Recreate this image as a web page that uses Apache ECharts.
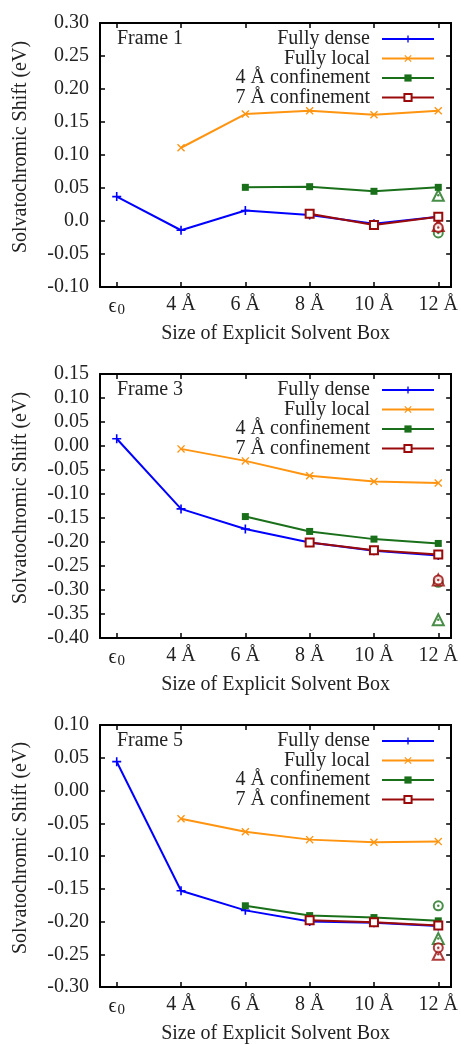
<!DOCTYPE html>
<html>
<head>
<meta charset="utf-8">
<script src="https://cdn.jsdelivr.net/npm/echarts@6/dist/echarts.min.js"></script>
<style>
  html, body { margin: 0; padding: 0; background: #fff; }
  #chart { width: 461px; height: 1045px; }
</style>
</head>
<body>
<div id="chart"></div>
<script>
// box sizes along x (position index 0..5); first one is eps_0 (rich text)
const boxLabels = ['{e|ϵ}{s|0}', '4 Å', '6 Å', '8 Å', '10 Å', '12 Å']
const frameNames = ['Frame 1', 'Frame 3', 'Frame 5']
const seriesNames = ['Fully dense', 'Fully local', '4 Å confinement', '7 Å confinement']

// Frame 1
const dense1 = [0.037, -0.014, 0.016, 0.009, -0.004, 0.0065]
const local1 = [0.111, 0.162, 0.167, 0.161, 0.167]
const conf4_1 = [0.051, 0.052, 0.045, 0.051]
const conf7_1 = [0.011, -0.006, 0.0065]
const extra1 = { tri4: 0.039, circ4: -0.018, tri7: -0.007, circ7: -0.010 }

// Frame 3
const dense3 = [0.015, -0.131, -0.173, -0.201, -0.218, -0.228]
const local3 = [-0.006, -0.031, -0.062, -0.074, -0.077]
const conf4_3 = [-0.147, -0.178, -0.194, -0.203]
const conf7_3 = [-0.201, -0.217, -0.226]
const extra3 = { tri4: -0.362, circ4: -0.284, tri7: -0.279, circ7: -0.279 }

// Frame 5
const dense5 = [0.044, -0.153, -0.183, -0.200, -0.202, -0.207]
const local5 = [-0.043, -0.063, -0.075, -0.079, -0.078]
const conf4_5 = [-0.176, -0.191, -0.194, -0.199]
const conf7_5 = [-0.198, -0.201, -0.206]
const extra5 = { tri4: -0.226, circ4: -0.176, tri7: -0.250, circ7: -0.240 }

// y tick labels per frame
const yTicks1 = ['-0.10', '-0.05', '0.0', '0.05', '0.10', '0.15', '0.20', '0.25', '0.30']
const yTicks3 = ['-0.40', '-0.35', '-0.30', '-0.25', '-0.20', '-0.15', '-0.10', '-0.05', '0.00', '0.05', '0.10', '0.15']
const yTicks5 = ['-0.30', '-0.25', '-0.20', '-0.15', '-0.10', '-0.05', '0.00', '0.05', '0.10']

const panels = [
  { dense: dense1, local: local1, conf4: conf4_1, conf7: conf7_1, extra: extra1, ticks: yTicks1 },
  { dense: dense3, local: local3, conf4: conf4_3, conf7: conf7_3, extra: extra3, ticks: yTicks3 },
  { dense: dense5, local: local5, conf4: conf4_5, conf7: conf7_5, extra: extra5, ticks: yTicks5 }
]

const colors = ['#0000ff', '#ff9410', '#1a701a', '#9b0a0a']
const font = "'Liberation Serif', 'DejaVu Serif', serif"
const textColor = '#222'
const gridTops = [23, 374, 725]
const last = boxLabels.length - 1

const plusPath = 'path://M-0.9,-5H0.9V-0.9H5V0.9H0.9V5H-0.9V0.9H-5V-0.9H-0.9Z'
const crossPath = 'path://M-5,-3.8L-3.8,-5L0,-1.2L3.8,-5L5,-3.8L1.2,0L5,3.8L3.8,5L0,1.2L-3.8,5L-5,3.8L-1.2,0Z'
const symbols = [plusPath, crossPath, 'rect', 'emptyRect']
const symbolSizes = [9, 8, 7, 8]

// values fill the last positions of the box axis
function toPoints(values) {
  const start = boxLabels.length - values.length
  return values.map((v, i) => [start + i, v])
}

const grid = []
const xAxis = []
const yAxis = []
const series = []
const legend = []
const title = []

const tickStyle = { show: true, inside: true, length: 5, lineStyle: { color: '#000', width: 1.5 } }
const frameLine = { show: true, onZero: false, lineStyle: { color: '#000', width: 2 } }
const boxTicks = boxLabels.map((_, i) => i)

panels.forEach((p, g) => {
  const yMin = Number(p.ticks[0])
  const yMax = Number(p.ticks[p.ticks.length - 1])
  grid.push({ left: 100, top: gridTops[g], width: 355, height: 264 })

  xAxis.push({
    type: 'value', gridIndex: g, position: 'bottom', min: -0.26, max: 5.2,
    axisLine: frameLine,
    axisTick: { ...tickStyle, customValues: boxTicks },
    axisLabel: {
      customValues: boxTicks,
      formatter: v => boxLabels[Math.round(v)],
      color: textColor, fontFamily: font, fontSize: 20, margin: 8,
      rich: {
        e: { fontFamily: font, fontSize: 20, color: textColor },
        s: { fontFamily: font, fontSize: 15, color: textColor, padding: [8, 0, 0, 1] }
      }
    },
    splitLine: { show: false },
    name: 'Size of Explicit Solvent Box', nameLocation: 'middle', nameGap: 37,
    nameTextStyle: { color: textColor, fontFamily: font, fontSize: 20 }
  })
  xAxis.push({
    type: 'value', gridIndex: g, position: 'top', min: -0.26, max: 5.2,
    axisLine: frameLine,
    axisTick: { ...tickStyle, customValues: boxTicks },
    axisLabel: { show: false },
    splitLine: { show: false }
  })
  const yCommon = {
    type: 'value', gridIndex: g, min: yMin, max: yMax, interval: 0.05,
    axisLine: frameLine, axisTick: tickStyle, splitLine: { show: false }
  }
  yAxis.push({
    ...yCommon, position: 'left',
    axisLabel: {
      formatter: v => p.ticks[Math.round((v - yMin) / 0.05)],
      color: textColor, fontFamily: font, fontSize: 20, margin: 11
    },
    name: 'Solvatochromic Shift (eV)', nameLocation: 'middle', nameGap: 69,
    nameTextStyle: { color: textColor, fontFamily: font, fontSize: 20, padding: [0, 0, 0, 16] }
  })
  yAxis.push({ ...yCommon, position: 'right', axisLabel: { show: false } })

  title.push({
    text: frameNames[g], left: 117, top: gridTops[g] + 6, padding: 0,
    textStyle: { color: textColor, fontFamily: font, fontSize: 20, fontWeight: 'normal' }
  })

  const lines = [p.dense, p.local, p.conf4, p.conf7]
  lines.forEach((vals, k) => {
    series.push({
      name: seriesNames[k], type: 'line', xAxisIndex: g * 2, yAxisIndex: g * 2,
      data: toPoints(vals), symbol: symbols[k], symbolSize: symbolSizes[k],
      lineStyle: { color: colors[k], width: 2 },
      itemStyle: { color: colors[k], borderWidth: 1.5 },
      animation: false
    })
    legend.push({
      data: [seriesNames[k]], orient: 'vertical', right: 26,
      top: gridTops[g] + 6 + k * 19.5, padding: 0, itemWidth: 52, itemHeight: 9,
      textStyle: { color: textColor, fontFamily: font, fontSize: 20, padding: [0, 7, 0, 0] },
      align: 'right', selectedMode: false
    })
  })
  // extra single results at 12 Å (open triangle / circle with a dot)
  const extras = [
    ['tri4', 'emptyTriangle', colors[2]], ['circ4', 'emptyCircle', colors[2]],
    ['tri7', 'emptyTriangle', colors[3]], ['circ7', 'emptyCircle', colors[3]]
  ]
  extras.forEach(([key, sym, c]) => {
    const pt = [[last, p.extra[key]]]
    series.push({
      type: 'scatter', xAxisIndex: g * 2, yAxisIndex: g * 2, data: pt,
      symbol: sym, symbolSize: sym === 'emptyTriangle' ? 11 : 9,
      itemStyle: { color: c, borderWidth: 1.6 }, animation: false
    })
    series.push({
      type: 'scatter', xAxisIndex: g * 2, yAxisIndex: g * 2, data: pt,
      symbol: 'circle', symbolSize: 2.5, itemStyle: { color: c }, animation: false
    })
  })
})

const chart = echarts.init(document.getElementById('chart'), null, { renderer: 'canvas' })
chart.setOption({
  backgroundColor: '#fff',
  animation: false,
  title,
  grid,
  xAxis,
  yAxis,
  legend,
  series
})
</script>
</body>
</html>
